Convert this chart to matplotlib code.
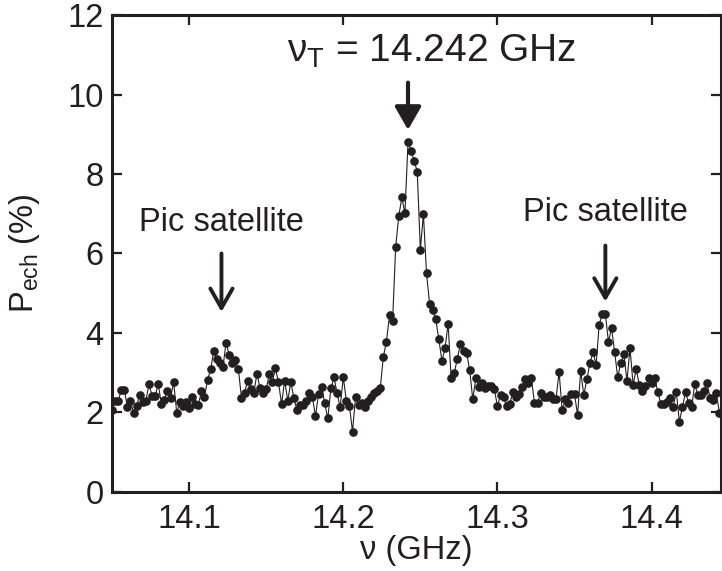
import numpy as np
import matplotlib
matplotlib.use('Agg')
import matplotlib.pyplot as plt

plt.rcParams['font.family'] = ['Liberation Sans', 'DejaVu Sans']

# balayage en frequence (GHz), pas de 2 MHz
f_start = 14.050
f_step = 0.002

# probabilite d'echappement (%)
p_ech = [
    2.06, 2.30, 2.28, 2.57, 2.57, 2.13, 2.30, 1.98, 2.16, 2.44,
    2.26, 2.30, 2.71, 2.42, 2.42, 2.71, 2.22, 2.32, 2.53, 2.36,
    2.77, 1.99, 2.26, 2.16, 2.26, 2.11, 2.40, 2.22, 2.19, 2.53,
    2.38, 2.82, 3.09, 3.55, 3.34, 3.24, 3.15, 3.76, 3.45, 3.24,
    3.32, 3.09, 2.36, 2.50, 2.80, 2.60, 2.50, 2.97, 2.62, 2.48,
    2.58, 2.96, 2.77, 3.11, 2.76, 2.21, 2.80, 2.30, 2.76, 2.36,
    2.05, 2.19, 2.19, 2.30, 2.50, 2.38, 1.91, 2.47, 2.63, 2.23,
    1.85, 2.61, 2.89, 2.48, 2.13, 2.89, 2.30, 2.16, 1.52, 2.40,
    2.19, 2.23, 2.15, 2.30, 2.40, 2.48, 2.55, 2.61, 3.40, 3.78,
    4.45, 4.30, 6.17, 6.94, 7.41, 7.01, 8.80, 8.59, 8.32, 8.06,
    6.10, 6.99, 5.50, 4.74, 4.58, 4.34, 3.84, 3.30, 3.61, 4.23,
    2.86, 2.99, 3.35, 3.72, 3.55, 3.50, 3.07, 2.33, 2.86, 2.65,
    2.73, 2.61, 2.66, 2.66, 2.58, 2.16, 2.44, 2.38, 2.16, 2.21,
    2.52, 2.38, 2.47, 2.65, 2.83, 2.75, 2.86, 2.25, 2.25, 2.48,
    2.40, 2.38, 2.43, 2.35, 2.35, 3.02, 2.05, 2.33, 2.23, 2.46,
    2.46, 1.93, 3.05, 2.43, 2.83, 3.24, 3.52, 3.20, 4.21, 4.48,
    4.48, 3.78, 4.12, 3.53, 2.89, 3.24, 3.47, 2.80, 3.61, 2.69,
    3.09, 2.69, 2.55, 2.66, 2.86, 2.74, 2.86, 2.52, 2.21, 2.21,
    2.27, 2.36, 2.15, 2.52, 1.77, 2.13, 2.52, 2.23, 2.15, 2.72,
    2.43, 2.43, 2.53, 2.73, 2.36, 2.31, 2.48, 1.99, 1.99, 2.27,
]
freq = f_start + f_step * np.arange(len(p_ech))

f_transition = 14.242
f_satellites = [14.121, 14.370]
x_ticks = [14.1, 14.2, 14.3, 14.4]
y_ticks = [0, 2, 4, 6, 8, 10, 12]

fig = plt.figure(figsize=(7.22, 5.71), dpi=100)
ax = fig.add_axes([0.1551, 0.1384, 0.8435, 0.8353])

ax.plot(freq, p_ech, '-', color='#231f20', lw=0.8,
        marker='o', ms=5.2, mfc='#231f20', mec='#231f20', clip_on=True)

ax.set_xlim(14.05, 14.445)
ax.set_ylim(0, 12)
ax.set_xticks(x_ticks)
ax.set_xticklabels(['14.1', '14.2', '14.3', '14.4'])
ax.set_yticks(y_ticks)

for s in ax.spines.values():
    s.set_linewidth(2.2)
    s.set_color('#231f20')
ax.tick_params(direction='in', length=7.5, width=1.6, labelsize=23.5,
               top=True, right=True, color='#231f20', labelcolor='#231f20')
ax.tick_params(axis='x', pad=9)
ax.tick_params(axis='y', pad=6)

ax.set_xlabel('ν (GHz)', fontsize=23.5, color='#231f20', labelpad=0)
ax.set_ylabel(r'$\mathregular{P_{ech}}$ (%)', fontsize=23.5, color='#231f20')
ax.yaxis.set_label_coords(-0.115, 0.5)

# pic central
ax.text(14.2573, 11.08, r'$\mathregular{ν_T}$ = 14.242 GHz', fontsize=28,
        ha='center', va='center', color='#231f20')
ax.annotate('', xy=(f_transition, 9.11), xytext=(f_transition, 10.3),
            arrowprops=dict(arrowstyle='-|>,head_length=1.4,head_width=0.8',
                            lw=3, color='#231f20', mutation_scale=10,
                            shrinkA=0, shrinkB=0))

# pics satellites
sat_text_y = [6.79, 7.04]
sat_tail_y = [6.0, 6.2]
sat_tip_y = [4.53, 4.79]
for fx, ty, y0, y1 in zip(f_satellites, sat_text_y, sat_tail_y, sat_tip_y):
    ax.text(fx, ty, 'Pic satellite', fontsize=23.5, ha='center', va='center',
            color='#231f20')
    ax.annotate('', xy=(fx, y1), xytext=(fx, y0),
                arrowprops=dict(arrowstyle='->,head_length=1.4,head_width=0.8',
                                lw=2.8, color='#231f20', mutation_scale=10,
                                shrinkA=0, shrinkB=0))

fig.savefig('out.png', dpi=100)
